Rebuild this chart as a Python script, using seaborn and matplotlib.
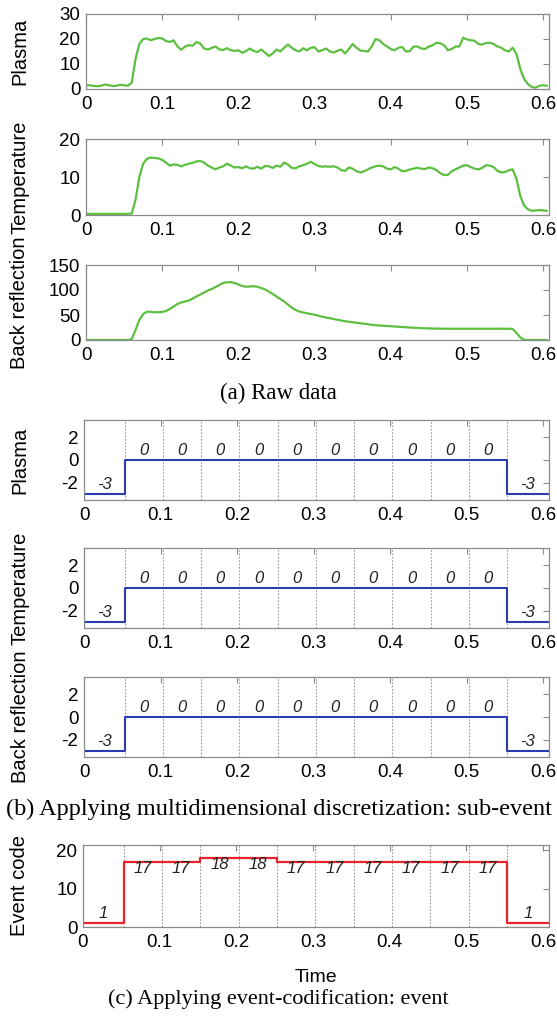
import numpy as np
import pandas as pd
import matplotlib
matplotlib.use("Agg")
import matplotlib.pyplot as plt
import seaborn as sns

# ---------------- data ----------------
time_step = 0.005  # sampling of the raw signals (s)

plasma_raw = [
    1.5, 1.5, 1.2, 1.1, 1.3, 1.8, 1.5, 1.2, 1.3, 1.7,
    1.5, 1.3, 2.5, 12, 18, 20, 20.2, 19.5, 20, 20.4,
    20.2, 19.2, 18.8, 19.5, 17, 15.7, 17, 17.5, 17.3, 18.8,
    18.2, 16.2, 15.8, 16.4, 17, 15.8, 15.6, 16.3, 15.5, 15.2,
    15.5, 14.5, 15.2, 16.2, 15.2, 14.8, 15.8, 14.5, 13.2, 14.2,
    15.8, 15, 16.5, 17.8, 16.5, 15.5, 15, 16.3, 15.5, 16.5,
    16.7, 15, 15.5, 16.2, 15, 14.6, 15.3, 15.8, 14.2, 16,
    18, 16.5, 15.4, 15.2, 15, 17, 20, 19.5, 18, 17,
    16, 15.5, 16.5, 16.8, 15, 15.2, 17, 17, 16.2, 16,
    17, 17.5, 18.5, 18.3, 17.5, 15.5, 16, 17, 17, 20.5,
    19.8, 19.5, 19.3, 18, 17.8, 18.4, 18.5, 18, 17, 16.5,
    15.5, 15, 16.5, 14, 8, 4, 2, 0.8, 0.5, 1.3,
    1.5, 1.3,
]

temperature_raw = [
    0.3, 0.3, 0.3, 0.3, 0.3, 0.3, 0.3, 0.3, 0.3, 0.3,
    0.3, 0.3, 0.4, 4, 10, 13.5, 14.8, 15.1, 15, 14.9,
    14.5, 13.8, 13, 13.3, 13.2, 12.8, 13.2, 13.5, 13.7, 14.1,
    14.2, 13.8, 13, 12.5, 12, 12.5, 12.8, 13.5, 13, 12.5,
    12.6, 12.3, 12.8, 12.3, 12.2, 12.7, 12.2, 12.9, 12.8, 12.4,
    13, 12.7, 13.8, 13.3, 12.4, 12.3, 12.8, 13.1, 13.5, 14,
    13.4, 12.9, 12.7, 12.8, 12.7, 12.8, 12.5, 11.8, 11.6, 12.5,
    12.2, 11.5, 11.2, 11.5, 12, 12.5, 12.8, 13, 12.8, 12.2,
    12, 12.6, 12.2, 11.5, 11.6, 12, 12.2, 12.4, 12.2, 12.1,
    12.5, 12.3, 11.8, 11, 10.5, 10.6, 11.5, 12, 12.5, 13,
    13.1, 12.6, 12.2, 12, 12.4, 13.1, 13, 12.6, 11.6, 11.2,
    11.3, 11.8, 12, 9.5, 5, 2.5, 1.5, 1.1, 1.2, 1.3,
    1.2, 1.1,
]

back_reflection_raw = [
    0, 0, 0, 0, 0, 0, 0, 0, 0, 0,
    0, 0, 2, 20, 40, 52, 56.5, 56.5, 55.5, 55.5,
    56, 58, 62, 67, 72, 75, 77, 79, 83, 87,
    91, 95, 99, 102, 106, 110, 114, 115.5, 115.5, 114,
    111, 108, 106.5, 107, 107.5, 106.5, 104, 101, 97, 92,
    87, 82, 77, 71, 65, 60, 57, 55, 53.5, 52,
    50.5, 48.5, 46.5, 45, 43.5, 42, 40.5, 39, 37.5, 36.5,
    35.5, 34.5, 33.5, 32.5, 31.5, 30.5, 29.5, 29, 28.5, 28,
    27.5, 27, 26.5, 26, 25.5, 25, 24.5, 24, 23.7, 23.4,
    23.2, 23, 22.8, 22.7, 22.6, 22.5, 22.5, 22.5, 22.5, 22.5,
    22.5, 22.5, 22.5, 22.5, 22.5, 22.5, 22.5, 22.5, 22.5, 22.5,
    22.5, 22.5, 22, 14, 5, 0.5, 0, 0, 0, 0,
    0, 0,
]

time_raw = np.round(np.arange(len(plasma_raw)) * time_step, 3)

# window boundaries used for discretisation
segment_edges = [0.0, 0.053, 0.103, 0.153, 0.203, 0.253, 0.303,
                 0.353, 0.403, 0.453, 0.503, 0.553, 0.607]
sub_event_plasma = [-3, 0, 0, 0, 0, 0, 0, 0, 0, 0, 0, -3]
sub_event_temperature = [-3, 0, 0, 0, 0, 0, 0, 0, 0, 0, 0, -3]
sub_event_back_reflection = [-3, 0, 0, 0, 0, 0, 0, 0, 0, 0, 0, -3]
event_code = [1, 17, 17, 18, 18, 17, 17, 17, 17, 17, 17, 1]

x_ticks = [0, 0.1, 0.2, 0.3, 0.4, 0.5, 0.6]
x_tick_labels = ["0", "0.1", "0.2", "0.3", "0.4", "0.5", "0.6"]

raw_labels = ["Plasma", "Temperature", "Back reflection"]
raw_yticks = [[0, 10, 20, 30], [0, 10, 20], [0, 50, 100, 150]]
raw_ylims = [(0, 30), (0, 20), (0, 150)]
sub_yticks = [-2, 0, 2]
event_yticks = [0, 10, 20]

captions = ["(a) Raw data",
            "(b) Applying multidimensional discretization: sub-event",
            "(c) Applying event-codification: event"]

# ---------------- style ----------------
sns.set_theme(style="white")
plt.rcParams["font.family"] = ["Liberation Sans", "DejaVu Sans"]

GREEN = "#5cbf3f"
BLUE = "#2a3cae"
RED = "#e8232b"
SPINE = "#8a8a8a"
GRID = "#9a9a9a"

W, H = 557, 1017
RIGHT = 548.5
fig = plt.figure(figsize=(W / 100, H / 100), dpi=100)
fig.patch.set_facecolor("white")


def make_axes(top, bottom, left, right=RIGHT):
    return fig.add_axes([left / W, 1 - bottom / H, (right - left) / W, (bottom - top) / H])


def style_axes(ax, yticks, ylabel, left):
    ax.set_xlim(0, 0.607)
    ax.set_xticks(x_ticks)
    ax.set_xticklabels(x_tick_labels)
    ax.set_yticks(yticks)
    ax.set_yticklabels([str(v) for v in yticks])
    for s in ax.spines.values():
        s.set_color(SPINE)
        s.set_linewidth(0.9)
        s.set_visible(True)
    ax.tick_params(direction="in", top=True, right=True, length=4, width=0.8,
                   color=SPINE, labelsize=13.5, pad=4, labelcolor="black")
    ax.tick_params(axis="x", pad=5)
    ax.set_xlabel("")
    ax.set_ylabel(ylabel, fontsize=14.5, va="center", color="black")
    ax.yaxis.set_label_coords((20.0 - left) / (RIGHT - left), 0.5)
    ax.set_facecolor("white")


# ---- (a) raw data ----
raw_series = [plasma_raw, temperature_raw, back_reflection_raw]
raw_boxes = [(14, 89), (139, 215), (265, 340)]
for vals, lab, yt, yl, (t, b) in zip(raw_series, raw_labels, raw_yticks, raw_ylims, raw_boxes):
    ax = make_axes(t, b, 86)
    df = pd.DataFrame({"time": time_raw, "value": vals})
    sns.lineplot(data=df, x="time", y="value", ax=ax, color=GREEN, linewidth=1.6,
                 estimator=None, sort=False)
    ax.set_ylim(*yl)
    style_axes(ax, yt, lab, 86)

# ---- (b) sub-events ----
centers = [(segment_edges[i] + segment_edges[i + 1]) / 2 for i in range(len(segment_edges) - 1)]
sub_series = [sub_event_plasma, sub_event_temperature, sub_event_back_reflection]
sub_boxes = [(420, 500), (548, 628), (677, 757)]
for vals, lab, (t, b) in zip(sub_series, raw_labels, sub_boxes):
    ax = make_axes(t, b, 84)
    for e in segment_edges[1:-1]:
        ax.axvline(e, color=GRID, linestyle=(0, (1.5, 1.5)), linewidth=0.8, zorder=0)
    df = pd.DataFrame({"time": segment_edges, "code": vals + [vals[-1]]})
    sns.lineplot(data=df, x="time", y="code", ax=ax, color=BLUE, linewidth=1.5,
                 estimator=None, sort=False, drawstyle="steps-post")
    for c, v in zip(centers, vals):
        ax.text(c, v + 0.85, str(v), ha="center", va="center",
                fontsize=12, fontstyle="italic", color="#222222")
    ax.set_ylim(-3.55, 3.55)
    style_axes(ax, sub_yticks, lab, 84)

# ---- (c) events ----
ax = make_axes(845, 927, 83)
for e in segment_edges[1:-1]:
    ax.axvline(e, color=GRID, linestyle=(0, (1.5, 1.5)), linewidth=0.8, zorder=0)
df = pd.DataFrame({"time": segment_edges, "code": event_code + [event_code[-1]]})
sns.lineplot(data=df, x="time", y="code", ax=ax, color=RED, linewidth=1.6,
             estimator=None, sort=False, drawstyle="steps-post")
for c, v in zip(centers, event_code):
    yy = v - 1.7 if v > 10 else v + 2.6
    ax.text(c, yy, str(v), ha="center", va="center", fontsize=12,
            fontstyle="italic", color="#222222")
ax.set_ylim(0, 21.3)
style_axes(ax, event_yticks, "Event code", 83)
ax.set_xlabel("Time", fontsize=14, labelpad=13, color="black")

# ---- captions ----
cap_sizes = [16.5, 17.5, 16]
for text, y, fs in zip(captions, [393, 809, 999], cap_sizes):
    fig.text(0.5 * (5 + 552) / W, 1 - y / H, text, ha="center", va="center",
             fontsize=fs, family=["Liberation Serif", "DejaVu Serif"], color="black")

fig.savefig("out.png", dpi=100, facecolor="white")
